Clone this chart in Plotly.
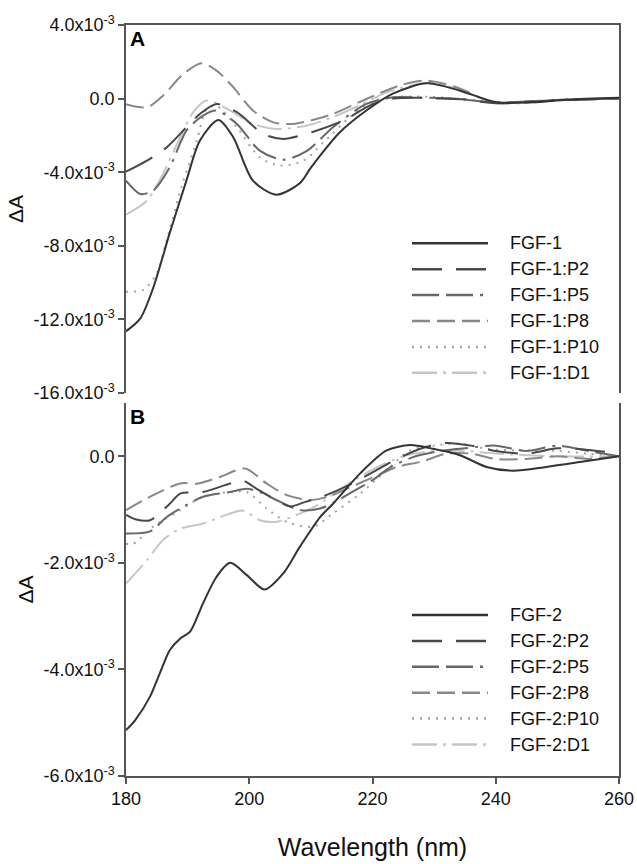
import numpy as np
import plotly.graph_objects as go

# ---------------- data (values in units of 1e-3 ΔA) ----------------
SCALE = 1e-3

# Panel A
a_fgf1_wl = [180, 182.3, 184.4, 187.1, 189.8, 192, 195, 197.4, 200.6, 204.4, 208.2, 209.8, 211.5, 214.7,
             219, 223.3, 228.8, 234.2, 240.1, 246, 251.5, 260]
a_fgf1_val = [-12.65, -11.96, -10.3, -7.3, -4.46, -2.28, -1.16, -2.1, -4.46, -5.22, -4.6, -3.85, -3.1, -1.83,
              -0.65, 0.27, 0.83, 0.43, -0.2, -0.2, -0.06, 0.04]

a_p2_wl = [180, 183.4, 186.6, 189.8, 192, 194.7, 198, 202.3, 205.5, 210.4, 215.2, 220.1, 223.4, 227, 231,
           235, 240, 245, 250, 255, 260]
a_p2_val = [-3.97, -3.37, -2.65, -1.56, -0.83, -0.29, -0.74, -1.92, -2.19, -1.8, -1.2, -0.29, 0.0, 0.05, 0.0,
            -0.05, -0.25, -0.2, -0.1, -0.05, 0.0]

a_p5_wl = [180, 182.3, 184.4, 187.1, 189.8, 192.5, 194.7, 198, 201.7, 205.5, 209.3, 213.6, 219, 223.4, 228,
           233, 240, 246, 252, 260]
a_p5_val = [-4.46, -5.18, -5.0, -3.73, -1.74, -0.92, -0.65, -1.38, -2.83, -3.32, -2.85, -1.56, -0.29, 0.07, 0.05,
            0.0, -0.2, -0.15, -0.05, 0.0]

a_p8_wl = [180, 183.4, 186, 189.3, 192.3, 194.7, 197.4, 200.6, 203.9, 207.1, 211, 213.6, 219, 224.4, 228.8,
           233.6, 239.6, 245, 252, 260]
a_p8_val = [-0.3, -0.47, 0.16, 1.34, 1.92, 1.52, 0.62, -0.65, -1.29, -1.38, -1.1, -0.83, -0.02, 0.71, 0.98,
            0.62, -0.2, -0.15, -0.05, 0.0]

a_p10_wl = [180, 182.8, 185, 186.6, 189, 191.5, 193.1, 194.7, 198, 201.7, 205, 208.8, 212, 216, 220, 224,
            229, 234, 240, 247, 253, 260]
a_p10_val = [-10.5, -10.4, -9.5, -7.7, -4.8, -2.28, -0.56, -0.4, -1.56, -3.19, -3.64, -3.37, -2.4, -1.1, -0.15,
             0.1, 0.1, 0.0, -0.2, -0.15, -0.05, 0.0]

a_d1_wl = [180, 183.4, 186, 188.8, 190.9, 193.1, 196.9, 200.6, 204.4, 209.3, 213.6, 218, 222, 228.8, 234,
           240, 246, 252, 260]
a_d1_val = [-6.3, -5.54, -4.09, -2.1, -0.74, -0.1, -0.65, -1.38, -1.65, -1.47, -1.0, -0.35, 0.3, 0.85, 0.5,
            -0.25, -0.2, -0.05, 0.0]

# Panel B
b_fgf2_wl = [180, 181.5, 183.9, 185.5, 187.1, 188.8, 190.4, 192.5, 194.7, 196.9, 199.6, 202.5, 205.5, 208.2,
             211.5, 213.6, 218, 222.3, 226.1, 229.8, 234.2, 238.5, 242.8, 248.2, 254.2, 260]
b_fgf2_val = [-5.14, -4.95, -4.51, -4.07, -3.64, -3.42, -3.29, -2.76, -2.26, -2.0, -2.23, -2.5, -2.2, -1.7,
              -1.14, -0.89, -0.32, 0.11, 0.21, 0.14, 0.02, -0.2, -0.27, -0.2, -0.1, 0.0]

b_p2_wl = [180, 181.5, 183.9, 187.1, 188.8, 192.5, 196.9, 199, 201.2, 203.9, 206.6, 209, 212, 216, 220,
           224, 228, 232, 236, 240, 245, 250, 255, 260]
b_p2_val = [-1.1, -1.18, -1.2, -0.89, -0.7, -0.67, -0.51, -0.46, -0.61, -0.79, -0.94, -0.86, -0.75, -0.55, -0.3,
            -0.05, 0.15, 0.25, 0.2, 0.1, 0.05, 0.15, 0.12, 0.05]

b_p5_wl = [180, 183.9, 186.6, 188.8, 192.5, 196.9, 199.6, 201.7, 204.4, 208.2, 211.5, 214, 217, 220, 223,
           227, 231, 235, 240, 245, 250, 255, 260]
b_p5_val = [-1.45, -1.41, -1.14, -0.98, -0.76, -0.67, -0.61, -0.67, -0.82, -1.01, -0.98, -0.85, -0.65, -0.45,
            -0.2, 0.0, 0.1, 0.15, 0.2, 0.1, 0.2, 0.1, 0.0]

b_p8_wl = [180, 184.4, 188.8, 191.7, 195.2, 199.3, 202.8, 206.1, 209.8, 213, 216, 220, 224, 228, 232, 236,
           240, 245, 250, 255, 260]
b_p8_val = [-1.01, -0.73, -0.51, -0.51, -0.39, -0.23, -0.51, -0.73, -0.82, -0.75, -0.6, -0.4, -0.2, -0.1, 0.05,
            0.05, -0.05, -0.05, 0.0, -0.05, 0.0]

b_p10_wl = [180, 181.2, 184.4, 188.8, 192.5, 196.9, 199.6, 202.8, 206.1, 210.4, 213.6, 218, 222.3, 226.1, 230,
            234.2, 238.5, 243, 250, 255, 260]
b_p10_val = [-1.64, -1.64, -1.32, -1.01, -0.76, -0.67, -0.67, -0.98, -1.23, -1.32, -1.07, -0.70, -0.26, 0.11,
             0.2, 0.24, 0.14, 0.11, 0.1, 0.05, 0.0]

b_d1_wl = [180, 183.4, 186, 188.8, 192.5, 196.3, 199, 201.7, 204.4, 207.7, 211, 215, 220, 225, 230, 235, 240,
           250, 260]
b_d1_val = [-2.39, -1.95, -1.57, -1.36, -1.26, -1.1, -1.02, -1.2, -1.23, -1.1, -0.92, -0.6, -0.25, 0.0, 0.1, 0.1,
            0.05, 0.0, 0.0]

names_A = ["FGF-1", "FGF-1:P2", "FGF-1:P5", "FGF-1:P8", "FGF-1:P10", "FGF-1:D1"]
names_B = ["FGF-2", "FGF-2:P2", "FGF-2:P5", "FGF-2:P8", "FGF-2:P10", "FGF-2:D1"]

x_tickvals = [180, 200, 220, 240, 260]
yA_tickvals = [4, 0, -4, -8, -12, -16]
yA_ticktext = ["4.0x10<sup>-3</sup>", "0.0", "-4.0x10<sup>-3</sup>", "-8.0x10<sup>-3</sup>",
               "-12.0x10<sup>-3</sup>", "-16.0x10<sup>-3</sup>"]
yB_tickvals = [0, -2, -4, -6]
yB_ticktext = ["0.0", "-2.0x10<sup>-3</sup>", "-4.0x10<sup>-3</sup>", "-6.0x10<sup>-3</sup>"]

# ---------------- styles ----------------
colors = ["#333333", "#484848", "#686868", "#888888", "#a2a2a2", "#c6c6c6"]
dashes = ["solid", "30px,14px", "27px,7px,27px,7px,3px,7px", "18px,7px", "2px,6px", "25px,6px,3px,6px"]
widths = [2, 2, 2, 2, 2, 2]

data_A = [(a_fgf1_wl, a_fgf1_val), (a_p2_wl, a_p2_val), (a_p5_wl, a_p5_val),
          (a_p8_wl, a_p8_val), (a_p10_wl, a_p10_val), (a_d1_wl, a_d1_val)]
data_B = [(b_fgf2_wl, b_fgf2_val), (b_p2_wl, b_p2_val), (b_p5_wl, b_p5_val),
          (b_p8_wl, b_p8_val), (b_p10_wl, b_p10_val), (b_d1_wl, b_d1_val)]

FONT = "Liberation Sans, Arial, sans-serif"
AXC = "#555555"
TXC = "#111111"

fig = go.Figure()
order = [5, 4, 3, 2, 1, 0]
for i in order:
    wl, v = data_A[i]
    fig.add_trace(go.Scatter(x=wl, y=np.array(v) * SCALE, mode="lines", name=names_A[i],
                             line=dict(color=colors[i], dash=dashes[i], width=widths[i], shape="spline",
                                       smoothing=0.8),
                             xaxis="x", yaxis="y", showlegend=False))
for i in order:
    wl, v = data_B[i]
    fig.add_trace(go.Scatter(x=wl, y=np.array(v) * SCALE, mode="lines", name=names_B[i],
                             line=dict(color=colors[i], dash=dashes[i], width=widths[i], shape="spline",
                                       smoothing=0.8),
                             xaxis="x2", yaxis="y2", showlegend=False))

# ---------------- layout geometry ----------------
W, H = 637, 864
ML, MR, MT, MB = 126, 18, 25, 88
plot_h = H - MT - MB
A_top_px, A_bot_px = 25, 393
B_top_px, B_bot_px = 403, 776
domA = [(H - MB - A_bot_px) / plot_h, (H - MB - A_top_px) / plot_h]
domB = [(H - MB - B_bot_px) / plot_h, (H - MB - B_top_px) / plot_h]

# manual legends (line samples + labels)
leg_x0, leg_x1, leg_tx = 412, 488, 508
plot_w = W - ML - MR
legA_first, legB_first, leg_step = 243.3, 615.0, 25.9
shapes, annotations = [], []
for panel, names, first, (ptop, pbot), ya in [("A", names_A, legA_first, (A_top_px, A_bot_px), "y"),
                                              ("B", names_B, legB_first, (B_top_px, B_bot_px), "y2")]:
    xr = "x domain" if ya == "y" else "x2 domain"
    yr = ya + " domain"
    for k, nm in enumerate(names):
        ypx = first + k * leg_step
        yd = (pbot - ypx) / (pbot - ptop)
        shapes.append(dict(type="line", xref=xr, yref=yr,
                           x0=(leg_x0 - ML) / plot_w, x1=(leg_x1 - ML) / plot_w, y0=yd, y1=yd,
                           line=dict(color=colors[k], dash=dashes[k], width=2.5)))
        annotations.append(dict(text=nm, xref=xr, yref=yr, x=(leg_tx - ML) / plot_w, y=yd,
                                xanchor="left", yanchor="middle", showarrow=False,
                                font=dict(size=18, color=TXC, family=FONT)))
    annotations.append(dict(text="<b>%s</b>" % panel, xref=xr, yref=yr, x=0.004, y=1.0,
                            xanchor="left", yanchor="top", showarrow=False,
                            font=dict(size=21, color="#000000", family=FONT)))

line_common = dict(showgrid=False, zeroline=False, linecolor=AXC, linewidth=1.5,
                   tickcolor=AXC, tickwidth=1.5, ticklen=6, automargin=False)
ytickfont = dict(size=18, color=TXC, family=FONT)
xtickfont = dict(size=18, color=TXC, family=FONT)
ytitle_font = dict(size=21, family=FONT, color=TXC)

fig.update_layout(
    width=W, height=H,
    margin=dict(l=ML, r=MR, t=MT, b=MB, pad=0),
    paper_bgcolor="white", plot_bgcolor="white",
    font=dict(family=FONT, color=TXC),
    showlegend=False,
    xaxis=dict(domain=[0, 1], anchor="y", range=[180, 260], side="top", showline=True,
               ticks="", showticklabels=False, **line_common),
    yaxis=dict(domain=domA, anchor="x", range=[-16 * SCALE, 4 * SCALE], tickvals=[t * SCALE for t in yA_tickvals],
               ticktext=yA_ticktext, ticks="outside", showline=True, mirror=True, tickfont=ytickfont,
               title=dict(text="ΔA", font=ytitle_font, standoff=4), **line_common),
    xaxis2=dict(domain=[0, 1], anchor="y2", range=[180, 260], tickvals=x_tickvals, ticks="outside",
                showline=True, tickfont=xtickfont,
                title=dict(text="Wavelength (nm)", font=dict(size=25, family=FONT, color=TXC), standoff=30),
                **line_common),
    yaxis2=dict(domain=domB, anchor="x2", range=[-6 * SCALE, 1 * SCALE], tickvals=[t * SCALE for t in yB_tickvals],
                ticktext=yB_ticktext, ticks="outside", showline=True, mirror=True, tickfont=ytickfont,
                title=dict(text="ΔA", font=ytitle_font, standoff=4), **line_common),
    shapes=shapes,
    annotations=annotations,
)

fig.write_html("out.html")
